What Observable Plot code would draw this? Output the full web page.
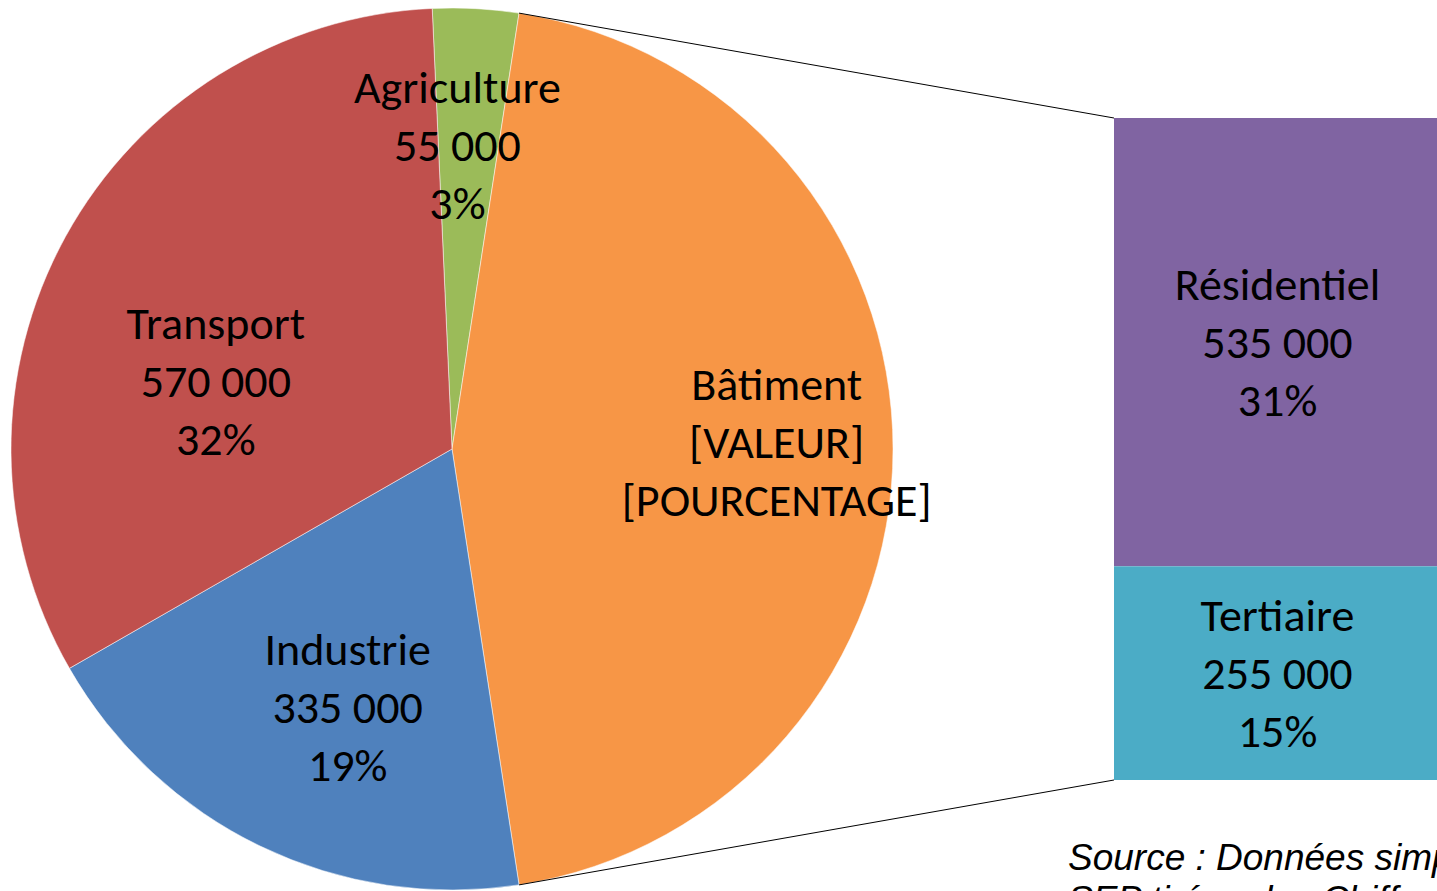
<!DOCTYPE html>
<html>
<head>
<meta charset="utf-8">
<script src="https://cdn.jsdelivr.net/npm/d3@7"></script>
<script src="https://cdn.jsdelivr.net/npm/@observablehq/plot@0.6"></script>
<style>
  html, body { margin: 0; padding: 0; background: #fff; overflow: hidden; }
  #wrap { position: relative; width: 1437px; height: 891px; overflow: hidden; }
  #wrap svg { position: absolute; left: 0; top: 0; }
  #source {
    position: absolute; left: 1068px; top: 837px;
    font-family: "Liberation Sans", Arial, sans-serif; font-style: italic;
    font-size: 37px; line-height: 42px; white-space: nowrap; color: #000;
  }
</style>
</head>
<body>
<div id="wrap"><div id="source">Source : Données simplifiées du<br>SEP tirées des Chiffres clés</div></div>
<script>
// ---- data ----
const sectors = ["Agriculture", "Bâtiment", "Industrie", "Transport"];
const sectorValues = [55000, 790000, 335000, 570000];
const sectorValueLabels = ["55 000", "[VALEUR]", "335 000", "570 000"];
const sectorPctLabels = ["3%", "[POURCENTAGE]", "19%", "32%"];
const splitSector = "Bâtiment";
const subSectors = ["Résidentiel", "Tertiaire"];
const subValues = [535000, 255000];
const subValueLabels = ["535 000", "255 000"];
const subPctLabels = ["31%", "15%"];

// ---- styles / layout ----
const colorDomain = [...sectors, ...subSectors];
const colorRange = ["#9BBB59", "#F79646", "#4F81BD", "#C0504D", "#8064A2", "#4BACC6"];
const W = 1437, H = 891;
const pieCx = 452, pieCy = 449, pieR = 441;
const barLeft = 1114, barRight = 1440, barTop = 118, barBottom = 780;
const fontFamily = "Carlito, Calibri, Lato, sans-serif";
const fontSize = 46, lineStep = 58;
const labelRadius = 0.65;
const labelNudge = [[-10, -18], [38, -7], [20, 0], [15, 70]];

const pieData = sectors.map((name, i) => ({
  name, value: sectorValues[i],
  label: [name, sectorValueLabels[i], sectorPctLabels[i]].join("\n")
}));
const subData = subSectors.map((name, i) => ({
  name, parent: splitSector, value: subValues[i],
  label: [name, subValueLabels[i], subPctLabels[i]].join("\n")
}));

function pieMark(index, scales, values, dimensions, context) {
  const total = d3.sum(pieData, d => d.value);
  const si = sectors.indexOf(splitSector);
  const before = d3.sum(pieData.slice(0, si), d => d.value);
  const splitV = pieData[si].value;
  const start = Math.PI / 2 - (splitV / total) * Math.PI - (before / total) * 2 * Math.PI;
  const arcs = d3.pie().sort(null).value(d => d.value)
    .startAngle(start).endAngle(start + 2 * Math.PI)(pieData);
  const arc = d3.arc().innerRadius(0).outerRadius(pieR);
  const labelArc = d3.arc().innerRadius(pieR * labelRadius).outerRadius(pieR * labelRadius);

  const g = d3.create("svg:g");
  const pie = g.append("g").attr("transform", `translate(${pieCx},${pieCy})`);
  pie.selectAll("path").data(arcs).join("path")
    .attr("d", arc)
    .attr("fill", d => scales.color(d.data.name))
    .attr("stroke", "#fff").attr("stroke-opacity", 0.5).attr("stroke-width", 1);

  // connector lines from split slice edges to the bar corners
  const sa = arcs[si];
  const bx = scales.x(splitSector);
  const yTop = scales.y(d3.sum(subValues));
  const yBot = scales.y(0);
  const pt = a => [pieCx + pieR * Math.sin(a), pieCy - pieR * Math.cos(a)];
  const [x1, y1] = pt(sa.startAngle);
  const [x2, y2] = pt(sa.endAngle);
  g.append("line").attr("x1", x1).attr("y1", y1).attr("x2", bx).attr("y2", yTop)
    .attr("stroke", "#000").attr("stroke-width", 1);
  g.append("line").attr("x1", x2).attr("y1", y2).attr("x2", bx).attr("y2", yBot)
    .attr("stroke", "#000").attr("stroke-width", 1);

  // labels
  const lab = pie.selectAll("text").data(arcs).join("text")
    .attr("transform", (d, i) => {
      const [cx, cy] = labelArc.centroid(d);
      return `translate(${cx + labelNudge[i][0]},${cy + labelNudge[i][1]})`;
    })
    .attr("text-anchor", "middle")
    .attr("font-family", fontFamily).attr("font-size", fontSize).attr("fill", "#000");
  lab.selectAll("tspan").data(d => d.data.label.split("\n")).join("tspan")
    .attr("x", 0)
    .attr("y", (d, i) => (i - 1) * lineStep + fontSize * 0.35)
    .text(d => d);
  return g.node();
}

const plot = Plot.plot({
  width: W, height: H, margin: 0,
  x: {type: "band", domain: [splitSector], range: [barLeft, barRight], padding: 0, axis: null},
  y: {domain: [0, d3.sum(subValues)], range: [barBottom, barTop], axis: null},
  color: {domain: colorDomain, range: colorRange},
  style: {fontFamily, background: "transparent", overflow: "visible"},
  marks: [
    pieMark,
    Plot.barY(subData, Plot.stackY({x: "parent", y: "value", fill: "name", reverse: true})),
    Plot.text(subData, Plot.stackY({
      x: "parent", y: "value", text: "label", reverse: true, dy: -3,
      fontSize, lineHeight: lineStep / fontSize, fill: "#000", lineAnchor: "middle"
    }))
  ]
});
document.getElementById("wrap").prepend(plot);
</script>
</body>
</html>
